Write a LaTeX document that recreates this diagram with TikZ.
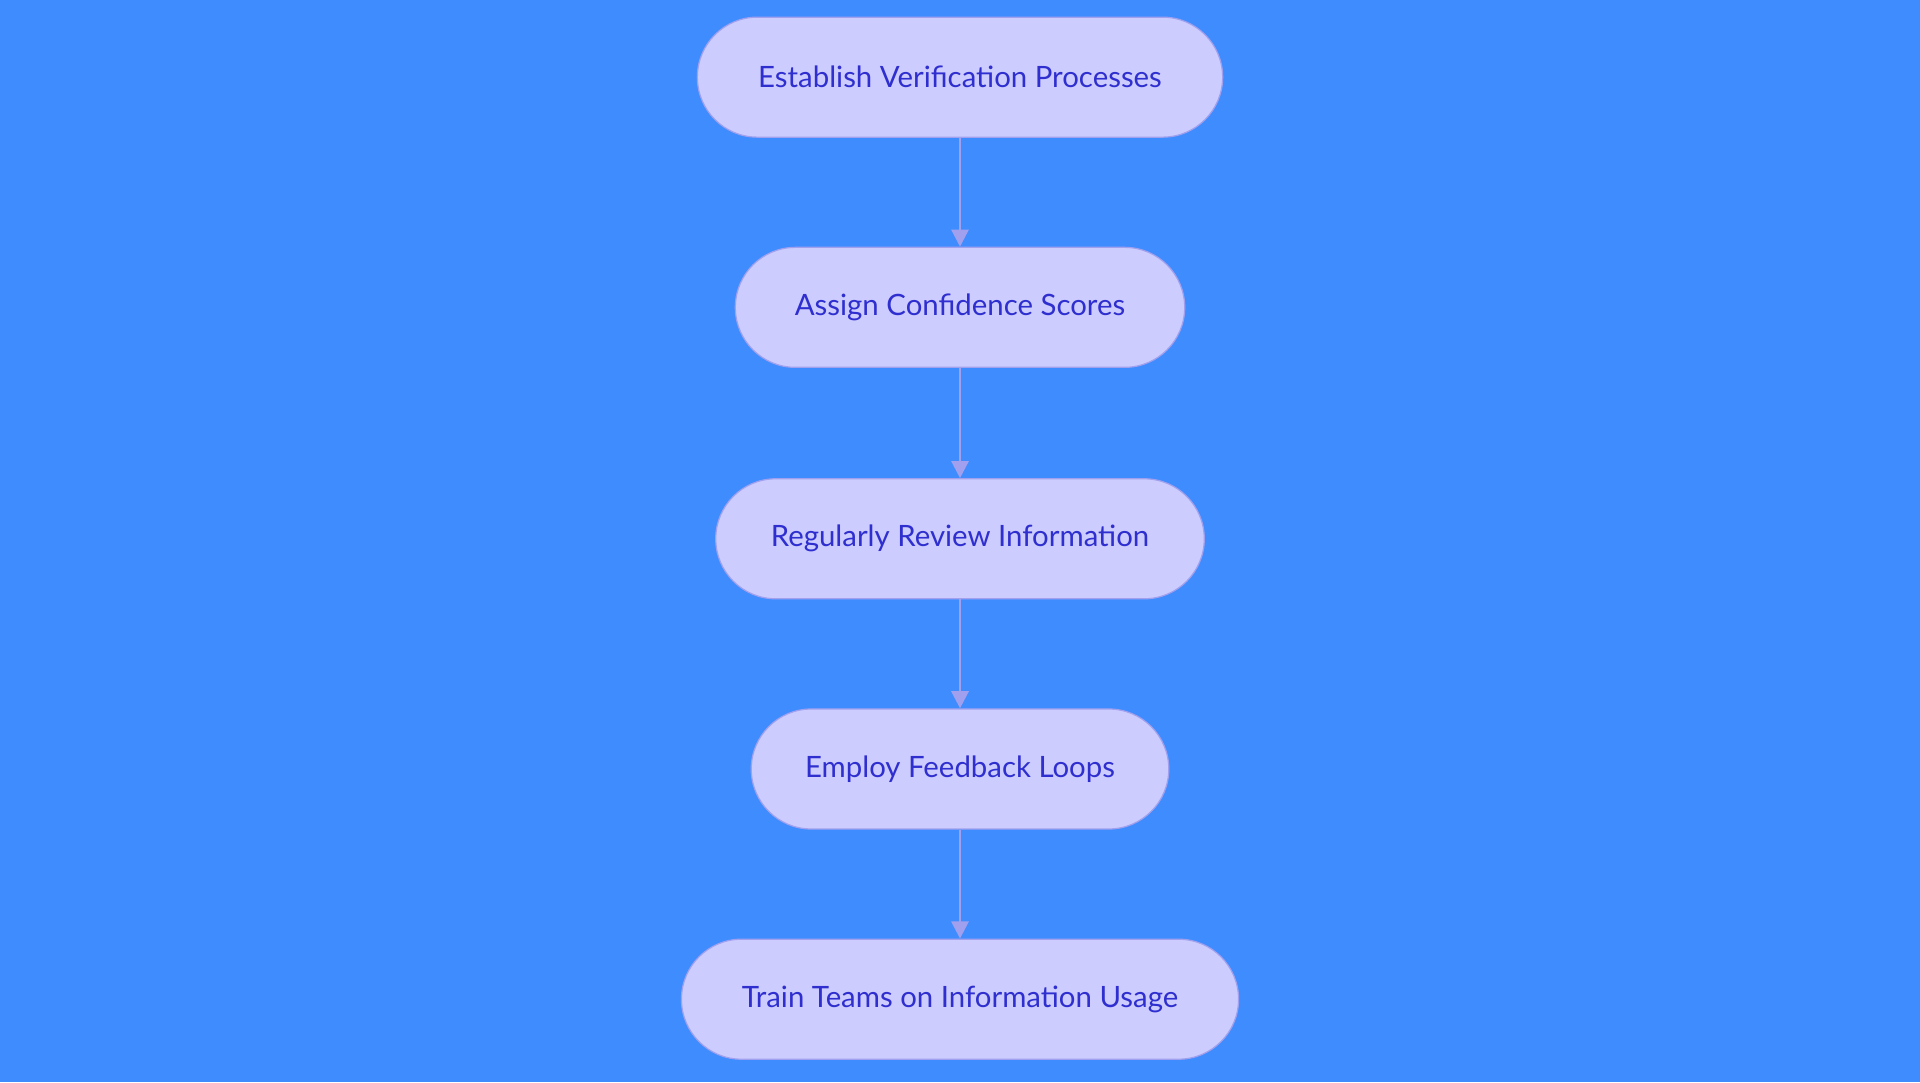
\documentclass[tikz,border=0pt]{standalone}
\usepackage{fontspec}
\setmainfont{Lato}
\usetikzlibrary{arrows.meta}
\definecolor{bg}{HTML}{3F8CFF}
\definecolor{nf}{HTML}{CCCCFF}
\definecolor{nd}{HTML}{A0A0EE}
\definecolor{tx}{HTML}{2F2FCF}
\begin{document}
\begin{tikzpicture}[x=1pt,y=-1pt,
  box/.style={rounded corners=49pt,fill=nf,draw=nd,line width=1pt,minimum height=98pt,text=tx,font=\fontsize{24}{28}\selectfont,inner sep=0pt},
  arr/.style={draw=nd,line width=2pt,-{Triangle[length=14pt,width=14pt]}}]
\fill[bg] (0,0) rectangle (1568,884);
\useasboundingbox (0,0) rectangle (1568,884);
\node[box,minimum width=429pt] (a) at (784,63) {Establish Verification Processes};
\node[box,minimum width=367pt] (b) at (784,251) {Assign Confidence Scores};
\node[box,minimum width=399pt] (c) at (784,440) {Regularly Review Information};
\node[box,minimum width=341pt] (d) at (784,628) {Employ Feedback Loops};
\node[box,minimum width=455pt] (e) at (784,816) {Train Teams on Information Usage};
\draw[arr] (a) -- (b);
\draw[arr] (b) -- (c);
\draw[arr] (c) -- (d);
\draw[arr] (d) -- (e);
\end{tikzpicture}
\end{document}
